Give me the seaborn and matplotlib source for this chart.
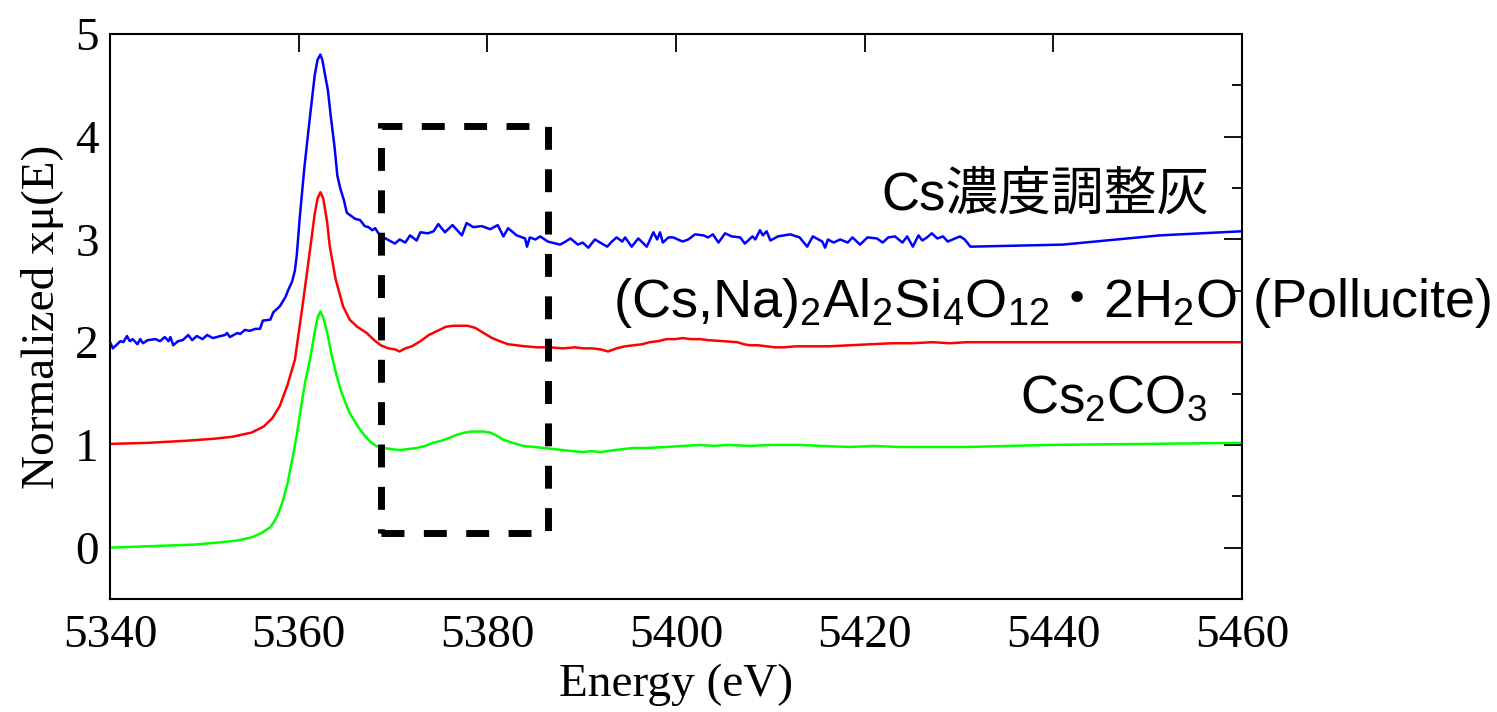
import numpy as np
import pandas as pd
import matplotlib
matplotlib.use('Agg')
import matplotlib.pyplot as plt
import seaborn as sns
from matplotlib.patches import Rectangle
from matplotlib.ticker import MultipleLocator, NullLocator
from matplotlib.offsetbox import TextArea, HPacker, AnnotationBbox

# --- data (energy in eV, normalized xmu) ---
ash_e = [5340.0, 5340.3, 5341.1, 5341.4, 5341.8, 5342.1, 5342.4, 5342.9, 5343.2, 5343.5,
         5344.0, 5344.8, 5345.3, 5345.8, 5346.2, 5346.4, 5346.7, 5347.2, 5347.7, 5348.3,
         5348.7, 5349.2, 5349.8, 5350.3, 5350.9, 5351.7, 5352.2, 5352.4, 5352.7, 5353.1,
         5353.5, 5353.8, 5354.3, 5354.8, 5355.4, 5355.9, 5356.2, 5357.0, 5357.3, 5358.0,
         5358.6, 5358.9, 5359.3, 5359.6, 5359.8, 5360.1, 5360.6, 5361.2, 5361.7, 5362.0,
         5362.3, 5362.5, 5362.8, 5363.1, 5363.4, 5363.8, 5364.1, 5364.4, 5364.8, 5365.1,
         5365.4, 5366.0, 5366.5, 5367.0, 5367.4, 5367.8, 5368.1, 5368.6, 5369.2, 5370.2,
         5370.7, 5371.3, 5371.8, 5372.5, 5372.9, 5373.7, 5374.3, 5374.8, 5375.5, 5376.3,
         5376.8, 5377.3, 5377.8, 5378.5, 5379.4, 5380.3, 5381.1, 5381.7, 5382.2, 5383.1,
         5384.0, 5384.2, 5384.5, 5385.1, 5385.6, 5386.4, 5387.7, 5388.3, 5388.8, 5389.6,
         5390.1, 5390.7, 5391.4, 5392.7, 5393.2, 5393.7, 5394.3, 5394.6, 5395.3, 5396.0,
         5396.9, 5397.6, 5398.0, 5398.3, 5398.6, 5399.2, 5399.7, 5400.7, 5401.3, 5402.0,
         5402.9, 5403.4, 5403.9, 5404.5, 5405.2, 5405.9, 5406.8, 5407.3, 5408.1, 5408.4,
         5408.9, 5409.2, 5409.6, 5410.0, 5410.8, 5412.1, 5413.1, 5413.9, 5414.5, 5415.5,
         5415.8, 5416.1, 5416.7, 5417.4, 5418.2, 5418.7, 5419.5, 5420.3, 5421.3, 5421.9,
         5422.5, 5423.2, 5424.0, 5424.5, 5425.1, 5425.7, 5426.1, 5426.6, 5427.1, 5427.7,
         5428.3, 5428.8, 5430.1, 5430.6, 5431.2, 5441.0, 5451.3, 5460.0]
ash_mu = [2.00, 1.94, 2.01, 2.00, 2.06, 2.01, 2.03, 1.98, 2.03, 1.99,
          2.02, 2.03, 2.01, 2.05, 2.01, 2.05, 1.97, 2.01, 2.02, 2.07,
          2.02, 2.06, 2.03, 2.07, 2.04, 2.06, 2.07, 2.09, 2.05, 2.07,
          2.09, 2.08, 2.12, 2.11, 2.13, 2.13, 2.21, 2.22, 2.29, 2.35,
          2.44, 2.51, 2.59, 2.70, 2.85, 3.20, 3.70, 4.20, 4.60, 4.75,
          4.80, 4.75, 4.60, 4.45, 4.20, 3.90, 3.62, 3.50, 3.38, 3.26,
          3.24, 3.20, 3.19, 3.13, 3.12, 3.09, 3.11, 3.04, 3.01, 2.96,
          3.00, 2.97, 3.04, 2.99, 3.07, 3.06, 3.08, 3.15, 3.07, 3.14,
          3.09, 3.04, 3.16, 3.12, 3.13, 3.10, 3.14, 3.03, 3.11, 3.04,
          3.01, 2.93, 3.02, 3.00, 3.03, 2.98, 2.95, 2.98, 3.01, 2.95,
          2.97, 2.92, 3.00, 2.93, 2.98, 3.02, 2.98, 3.02, 2.93, 3.01,
          2.93, 3.07, 3.00, 3.07, 2.97, 3.02, 3.02, 2.98, 3.00, 3.05,
          3.04, 3.02, 3.05, 2.97, 3.06, 3.03, 3.02, 2.96, 3.03, 3.00,
          3.09, 3.04, 3.08, 2.99, 3.03, 3.05, 3.02, 2.93, 3.03, 2.98,
          2.92, 3.00, 2.97, 3.00, 2.97, 3.02, 2.95, 3.02, 3.01, 2.97,
          3.02, 3.03, 2.97, 3.03, 2.93, 3.04, 2.99, 3.02, 3.06, 3.01,
          3.03, 2.98, 3.03, 3.00, 2.93, 2.95, 3.04, 3.08]

pollucite_e = [5340.0, 5344.0, 5348.0, 5351.0, 5353.0, 5355.0, 5356.3, 5357.2, 5358.0, 5358.8,
               5359.6, 5360.4, 5361.1, 5361.7, 5362.0, 5362.3, 5362.6, 5363.0, 5363.3, 5363.9,
               5364.7, 5365.4, 5366.2, 5367.2, 5368.0, 5368.7, 5369.5, 5370.2, 5370.7, 5371.3,
               5372.0, 5372.9, 5373.8, 5374.7, 5375.6, 5376.4, 5377.1, 5377.9, 5378.7, 5379.6,
               5380.5, 5381.3, 5382.2, 5383.1, 5384.0, 5385.3, 5386.6, 5388.0, 5389.3, 5390.2,
               5391.1, 5392.0, 5392.8, 5393.7, 5394.6, 5395.5, 5396.4, 5397.2, 5398.1, 5399.0,
               5399.9, 5400.7, 5401.6, 5402.5, 5403.4, 5405.0, 5406.5, 5407.2, 5407.8, 5408.7,
               5409.6, 5410.5, 5411.4, 5412.7, 5414.0, 5416.2, 5418.4, 5420.6, 5422.9, 5425.0,
               5427.2, 5429.0, 5430.8, 5445.0, 5460.0]
pollucite_mu = [1.01, 1.02, 1.04, 1.06, 1.08, 1.12, 1.18, 1.26, 1.38, 1.58,
                1.83, 2.35, 2.83, 3.25, 3.40, 3.46, 3.40, 3.18, 2.93, 2.62,
                2.35, 2.22, 2.15, 2.09, 2.02, 1.97, 1.94, 1.93, 1.91, 1.94,
                1.96, 2.01, 2.07, 2.11, 2.15, 2.16, 2.16, 2.16, 2.14, 2.09,
                2.04, 2.01, 1.98, 1.97, 1.96, 1.95, 1.95, 1.94, 1.95, 1.94,
                1.94, 1.93, 1.91, 1.94, 1.96, 1.97, 1.98, 2.00, 2.01, 2.03,
                2.03, 2.04, 2.03, 2.03, 2.02, 2.01, 2.00, 1.98, 1.97, 1.97,
                1.96, 1.95, 1.95, 1.96, 1.96, 1.96, 1.97, 1.98, 1.99, 1.99,
                2.00, 1.99, 2.00, 2.00, 2.00]

carbonate_e = [5340.0, 5343.0, 5346.0, 5349.0, 5351.5, 5353.5, 5355.0, 5356.0, 5357.0, 5357.7,
               5358.3, 5358.8, 5359.3, 5359.8, 5360.3, 5360.7, 5361.2, 5361.7, 5362.0, 5362.3,
               5362.6, 5363.0, 5363.5, 5364.0, 5364.5, 5365.0, 5365.4, 5366.0, 5366.5, 5367.0,
               5367.6, 5368.2, 5368.8, 5369.8, 5370.7, 5371.6, 5372.5, 5373.4, 5374.2, 5375.1,
               5376.0, 5376.8, 5377.6, 5378.3, 5378.9, 5379.6, 5380.3, 5381.0, 5381.7, 5382.7,
               5383.8, 5385.0, 5386.0, 5387.0, 5388.0, 5389.0, 5390.1, 5391.0, 5392.0, 5393.5,
               5395.4, 5397.0, 5399.0, 5400.7, 5402.5, 5404.0, 5405.5, 5407.8, 5410.0, 5413.1,
               5415.5, 5418.4, 5421.0, 5423.7, 5426.5, 5429.0, 5430.8, 5439.6, 5450.0, 5460.0]
carbonate_mu = [0.00, 0.01, 0.02, 0.03, 0.05, 0.07, 0.10, 0.14, 0.20, 0.30,
                0.45, 0.62, 0.85, 1.10, 1.40, 1.62, 1.83, 2.10, 2.24, 2.30,
                2.24, 2.10, 1.87, 1.68, 1.52, 1.40, 1.31, 1.22, 1.15, 1.09,
                1.03, 0.99, 0.97, 0.96, 0.95, 0.96, 0.97, 0.99, 1.02, 1.04,
                1.07, 1.10, 1.12, 1.13, 1.13, 1.13, 1.12, 1.09, 1.05, 1.02,
                0.99, 0.98, 0.97, 0.96, 0.95, 0.94, 0.93, 0.94, 0.93, 0.95,
                0.97, 0.97, 0.98, 0.99, 1.00, 0.99, 1.00, 0.99, 1.00, 1.00,
                0.99, 0.98, 0.99, 0.98, 0.98, 0.98, 0.98, 1.00, 1.01, 1.02]

# highlighted region (dashed box)
box_e = [5368.7, 5386.4]
box_mu = [0.14, 4.10]

df = pd.concat([
    pd.DataFrame({'energy': ash_e, 'mu': ash_mu, 'sample': 'ash'}),
    pd.DataFrame({'energy': pollucite_e, 'mu': pollucite_mu, 'sample': 'pollucite'}),
    pd.DataFrame({'energy': carbonate_e, 'mu': carbonate_mu, 'sample': 'carbonate'}),
])
colors = {'ash': '#0000ff', 'pollucite': '#ff0000', 'carbonate': '#00ff00'}

sns.set_style('white')
plt.rcParams['font.family'] = ['Liberation Serif', 'DejaVu Serif']
plt.rcParams['mathtext.fontset'] = 'custom'
plt.rcParams['mathtext.rm'] = 'Liberation Sans'
plt.rcParams['mathtext.default'] = 'regular'
for k in ['text.color', 'axes.labelcolor', 'xtick.color', 'ytick.color', 'axes.edgecolor']:
    plt.rcParams[k] = 'black'

fig = plt.figure(figsize=(14.97, 7.12), dpi=100)
ax = fig.add_axes([0.0735, 0.1587, 0.7562, 0.7935])

sns.lineplot(data=df, x='energy', y='mu', hue='sample', palette=colors,
             estimator=None, sort=False, legend=False, linewidth=1.8, ax=ax)

ax.add_patch(Rectangle((box_e[0], box_mu[0]), box_e[1] - box_e[0], box_mu[1] - box_mu[0],
                       fill=False, edgecolor='black', linewidth=5,
                       linestyle=(0, (3.3, 2.8)), zorder=5))

ax.set_xlim(5340, 5460)
ax.set_ylim(-0.5, 5)
ax.set_xticks(np.arange(5340, 5461, 20))
ax.set_yticks(np.arange(0, 6, 1))
ax.yaxis.set_minor_locator(MultipleLocator(0.5))
ax.xaxis.set_minor_locator(NullLocator())
ax.tick_params(which='both', direction='in', top=True, right=True, width=1.3, colors='black')
ax.tick_params(which='major', length=13, labelsize=34)
ax.tick_params(axis='x', which='major', pad=11)
ax.tick_params(axis='y', which='major', pad=8)
ax.tick_params(which='minor', length=7)
for s in ax.spines.values():
    s.set_linewidth(1.5)

ax.set_xlabel('Energy (eV)', fontsize=34, labelpad=5)
ax.set_ylabel('Normalized xμ(E)', fontsize=34, labelpad=8)

sans = ['Liberation Sans', 'Noto Sans CJK JP']
ax.text(5456.5, 3.29, 'Cs濃度調整灰', fontsize=38, family=sans, ha='right', va='baseline')
ax.text(5456.3, 1.31, r'Cs$_2$CO$_3$', fontsize=38, family='Liberation Sans',
        ha='right', va='baseline')

tp = dict(fontsize=39, family='Liberation Sans')
parts = [TextArea(r'(Cs,Na)$_2$Al$_2$Si$_4$O$_{12}$', textprops=tp),
         TextArea('・', textprops=dict(fontsize=39, family='Noto Sans CJK JP')),
         TextArea(r'2H$_2$O (Pollucite)', textprops=tp)]
formula = HPacker(children=parts, align='baseline', pad=0, sep=0)
ab = AnnotationBbox(formula, (5393.3, 2.39), xycoords='data', box_alignment=(0, 0.5),
                    frameon=False, pad=0, annotation_clip=False)
ax.add_artist(ab)

fig.savefig('out.png', dpi=100, facecolor='white')
